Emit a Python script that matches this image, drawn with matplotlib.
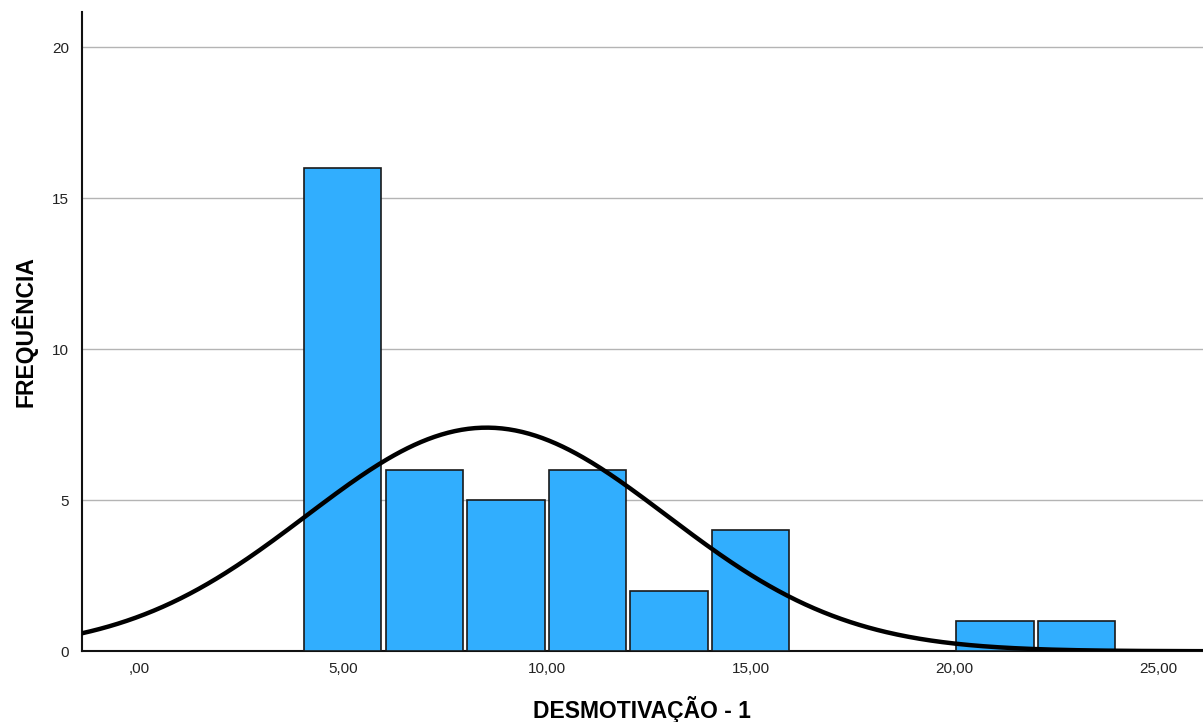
import numpy as np
import matplotlib.pyplot as plt
from matplotlib.ticker import FuncFormatter

plt.rcParams['font.family'] = ['Liberation Sans', 'DejaVu Sans']

# bin centres (width 2) and counts
bin_centres = [5, 7, 9, 11, 13, 15, 21, 23]
counts = [16, 6, 5, 6, 2, 4, 1, 1]
bin_width = 2.0

# normal curve parameters (from SPSS output)
mean = 8.53
std = 4.42

n = sum(counts)


def fmt(v, p):
    s = ('%.2f' % v).replace('.', ',')
    return s[1:] if v == 0 else s


fig = plt.figure(figsize=(12.03, 7.22), dpi=100)
ax = fig.add_axes([0.068, 0.098, 0.932, 0.885])

ax.bar(bin_centres, counts, width=1.9, color='#31aefe', edgecolor='#1a1a1a',
       linewidth=1.2, zorder=3)

xs = np.linspace(-1.4, 26.1, 500)
ys = n * bin_width / (std * np.sqrt(2 * np.pi)) * np.exp(-0.5 * ((xs - mean) / std) ** 2)
ax.plot(xs, ys, color='black', linewidth=3.2, zorder=4)

ax.set_xlim(-1.4, 26.1)
ax.set_ylim(0, 21.15)
ax.set_xticks([0, 5, 10, 15, 20, 25])
ax.xaxis.set_major_formatter(FuncFormatter(fmt))
ax.set_yticks([0, 5, 10, 15, 20])
ax.tick_params(axis='both', length=0, labelsize=11, colors='#222222')
ax.tick_params(axis='x', pad=8)
ax.tick_params(axis='y', pad=9)

ax.yaxis.grid(True, color='#b4b4b4', linewidth=1.0, zorder=0)
ax.set_axisbelow(True)
for s in ['top', 'right']:
    ax.spines[s].set_visible(False)
for s in ['left', 'bottom']:
    ax.spines[s].set_color('#111111')
    ax.spines[s].set_linewidth(1.5)

ax.set_xlabel('DESMOTIVAÇÃO - 1', fontsize=16.5, fontweight='bold', labelpad=14)
ax.set_ylabel('FREQUÊNCIA', fontsize=16.5, fontweight='bold', labelpad=11)

fig.savefig('out.png', dpi=100)
